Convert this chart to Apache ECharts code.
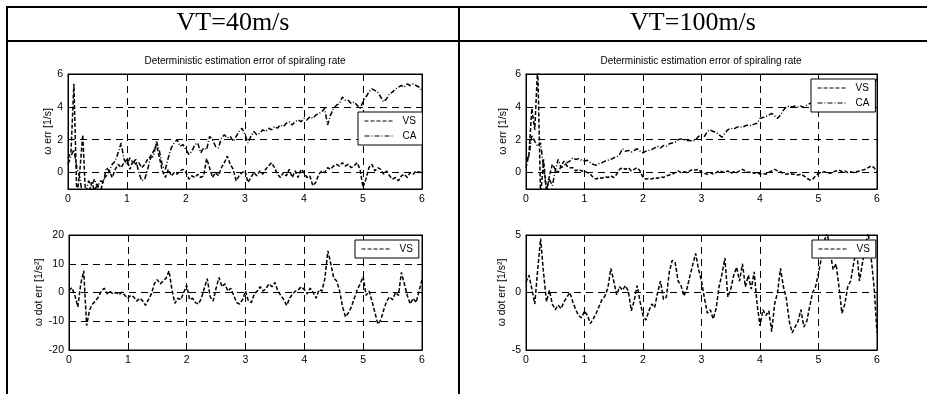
<!DOCTYPE html>
<html>
<head>
<meta charset="utf-8">
<script src="https://cdn.jsdelivr.net/npm/echarts@6/dist/echarts.min.js"></script>
<style>
  html, body { margin: 0; padding: 0; background: #fff; }
  #main { width: 927px; height: 394px; }
</style>
</head>
<body>
<div id="main"></div>
<script>
// sample step of all the curves (s)
var dt = 0.05;

// VT=40m/s
var vs40 = [
  0.9, 1.2, 5.4, -1.5, 0.1, 2.3, -1.6, -1.3, -0.6, -1.1,
  -0.7, -1.2, -0.4, -0.2, 0.1, -0.3, 0.2, 0.5, 0.3, 0.6,
  0.8, 0.2, 0.7, 0.5, 0.6, 0.3, 0.5, 0.8, 1.0, 1.3,
  1.7, 0.9, 0.1, -0.3, 0.2, -0.2, 0.0, -0.1, 0.1, 0.2,
  0.0, -0.4, -0.2, -0.3, -0.1, -0.3, -0.2, 0.85, 0.3, -0.3,
  0.0, -0.2, 0.3, 0.6, 1.0, 0.5, 0.2, -0.5, -0.2, 0.0,
  0.1, -0.6, -0.3, 0.0, -0.2, 0.1, -0.1, 0.2, 0.4, 0.6,
  0.3, -0.1, -0.3, 0.0, -0.2, 0.2, -0.3, 0.1, -0.3, 0.2,
  0.0, -0.3, -0.2, -0.8, -0.6, -0.1, 0.1, 0.0, 0.3, 0.2,
  0.4, 0.5, 0.4, 0.6, 0.4, 0.5, 0.3, 0.4, 0.6, 0.2,
  -0.9, -0.4, 0.3, 0.5, 0.1, 0.3, 0.2, -0.1, 0.1, -0.2,
  -0.4, -0.3, -0.5, -0.2, -0.1, -0.3, 0.0, -0.1, 0.1, 0.0,
  0.1
];
var ca40 = [
  0.5, 1.0, 1.4, 0.3, -0.3, -1.5, -1.2, -0.5, -0.8, -0.4,
  -0.9, -0.5, -0.6, 0.3, 0.1, 0.5, 0.7, 1.2, 1.8, 0.8,
  0.5, 0.9, 0.6, 0.8, 0.0, -0.5, -0.4, 0.2, 0.9, 1.0,
  1.9, 1.3, 0.4, 0.2, 0.9, 1.5, 1.8, 2.0, 1.6, 1.7,
  1.4, 1.1, 1.3, 1.7, 1.8, 1.2, 1.5, 1.4, 2.2, 2.0,
  1.6, 1.5, 2.1, 2.3, 2.1, 2.2, 1.9, 2.2, 2.5, 2.7,
  2.3, 1.8, 2.2, 2.5, 2.3, 2.4, 2.6, 2.5, 2.7, 2.6,
  2.8, 2.7, 2.9, 2.8, 3.0, 3.1, 2.9, 3.1, 3.2, 3.1,
  3.3, 3.2, 3.4, 3.3, 3.5, 3.6, 3.7, 3.9, 2.9, 3.5,
  3.9, 4.1, 4.2, 4.6, 4.4, 4.4, 4.2, 4.3, 4.1, 3.9,
  4.3, 4.6, 4.9, 5.1, 5.0, 4.9, 4.6, 4.3, 4.5, 4.8,
  4.9, 5.1, 5.2, 5.3, 5.2, 5.4, 5.3, 5.4, 5.3, 5.2,
  5.0
];
var vsDot40 = [
  0.7, 1.7, -1.0, -5.0, 3.0, 7.6, -11.5, -6.0, -4.0, -3.0,
  -1.5, 0.5, 1.5, -0.5, 0.3, -0.5, 0.0, -0.8, 0.2, -1.0,
  -2.0, -1.0, -1.5, -3.0, -2.0, -2.8, -4.5, -2.5, -0.5, 3.0,
  4.5, 3.0, 4.0, 5.0, 7.5, 1.0, -3.8, -2.0, -2.5, 0.0,
  2.5, -2.5, -2.0, -3.5, -4.0, -2.0, 1.5, 4.8, -1.5, -3.0,
  1.5, 5.2, 2.0, 3.0, 0.5, 1.5, -1.0, -3.5, -4.0, -2.5,
  0.5, -3.0, -3.5, -0.5, 0.5, 2.0, 0.5, 1.5, 3.0, 2.0,
  3.5, 0.5, -1.0, -2.5, -4.5, -2.0, -0.5, 0.5, 1.0, 2.0,
  1.0, -0.5, 1.5, 0.0, -2.0, 1.0, 0.5, 5.0, 14.5, 10.0,
  5.0, 4.0, 0.5, -5.0, -8.5, -7.0, -5.0, -2.0, 1.0, 3.0,
  5.5, -1.0, 0.5, -3.0, -7.0, -11.0, -9.5, -6.0, -3.0, -1.5,
  -2.5, 0.0, -1.0, 7.0, 3.0, -1.0, -4.0, -2.0, -3.5, 0.5,
  4.5
];

// VT=100m/s
var vs100 = [
  0.3, 1.1, 3.9, 2.6, 6.5, -1.5, 0.8, -1.2, -0.2, 0.5,
  0.2, 0.0, 0.4, 0.7, 0.4, 0.3, 0.3, 0.1, 0.2, 0.1,
  0.1, 0.0, -0.1, -0.3, -0.4, -0.3, -0.35, -0.25, -0.3, -0.2,
  -0.3, -0.1, 0.2, 0.3, 0.2, 0.3, 0.1, 0.2, 0.3, 0.1,
  -0.3, -0.4, -0.35, -0.4, -0.3, -0.35, -0.25, -0.3, -0.2, -0.15,
  -0.1, 0.0, 0.1, 0.0, 0.05, 0.0, 0.1, 0.2, 0.15, 0.2,
  0.0, -0.05, -0.1, 0.0, -0.1, 0.0, 0.1, 0.05, 0.0, 0.1,
  -0.05, 0.05, 0.0, 0.1, 0.2, 0.1, 0.0, 0.05, -0.05, 0.0,
  -0.1, -0.05, -0.1, 0.0, 0.1, 0.2, 0.1, 0.05, -0.05, -0.1,
  -0.05, -0.1, -0.1, -0.15, -0.1, -0.2, -0.35, -0.45, -0.4, -0.2,
  -0.05, 0.0, 0.05, 0.0, -0.05, 0.05, 0.1, 0.15, 0.05, 0.1,
  0.0, 0.05, 0.0, 0.05, 0.1, 0.15, 0.2, 0.3, 0.4, 0.3,
  0.05
];
var ca100 = [
  0.8, 1.0, 2.3, 1.9, 1.6, 1.8, 0.3, -1.0, -0.4, -0.8,
  0.1, 0.8, 0.3, 0.4, 0.6, 0.7, 0.9, 0.8, 0.85, 0.75,
  0.7, 0.75, 0.6, 0.5, 0.45, 0.55, 0.6, 0.7, 0.75, 0.8,
  0.9, 0.95, 1.1, 1.45, 1.3, 1.35, 1.25, 1.35, 1.45, 1.3,
  1.2, 1.3, 1.35, 1.4, 1.5, 1.6, 1.5, 1.65, 1.6, 1.75,
  1.8, 1.85, 2.0, 2.05, 2.0, 1.95, 1.95, 1.9, 2.0, 2.2,
  2.3, 2.2, 2.5, 2.6, 2.5, 2.45, 2.3, 2.15, 2.4, 2.6,
  2.7, 2.65, 2.75, 2.8, 2.75, 2.85, 2.9, 2.85, 2.95, 3.0,
  3.3, 3.35, 3.4, 3.5, 3.6, 3.45, 3.3, 3.5, 3.8, 4.0,
  4.05, 4.0, 4.05, 4.0, 4.05, 3.95, 4.1, 4.2, 4.25, 4.3,
  4.35, 4.4, 4.5, 4.55, 4.6, 4.7, 4.75, 4.8, 4.85, 4.9,
  4.95, 5.0, 5.05, 5.1, 5.15, 5.2, 5.2, 5.25, 5.3, 5.45,
  5.7
];
var vsDot100 = [
  0.9, 1.5, 0.3, -1.0, 2.0, 4.7, 1.7, -0.8, 0.2, -1.0,
  -1.5, -1.1, -1.4, -0.8, -0.4, 0.0, -0.8, -1.5, -2.0, -2.2,
  -1.6, -2.0, -2.7, -2.3, -1.8, -1.2, -0.6, -0.3, 0.4, 2.1,
  1.0, -0.2, 0.5, 0.2, 0.6, 0.1, -1.6, -0.7, 0.6, -0.8,
  -2.0, -2.4, -1.6, -1.0, -1.3, 0.0, 1.0, -0.6, -0.4, 1.8,
  2.8, 2.6, 1.0, 0.6, -0.3, 0.3, 1.4, 2.4, 3.4, 2.0,
  1.0, -0.5, -1.8, -1.5, -2.3, -1.4, 0.5, 1.6, 3.0, -0.4,
  0.3, 1.5, 2.2, 1.0, 2.5, 0.5, 1.5, 0.3, 1.8, -1.0,
  -2.9, -1.5, -2.0, -1.6, -3.4, -1.0, 0.0, 2.1, 0.5, -0.5,
  -2.5, -3.5, -3.0, -2.5, -1.5, -3.0, -2.5, -1.2, 0.0, 0.5,
  1.7, 3.0, 4.5, 5.2, 3.5, 2.0, 2.5, 0.5, -1.8, -1.0,
  0.5, 1.0, 2.5, 3.8, 1.0, 2.5, 4.0, 5.2, 3.0, 0.5,
  -3.5
];

// tick labels
var timeTicks = [0, 1, 2, 3, 4, 5, 6];
var errTicks = [0, 2, 4, 6];
var dot40Ticks = [-20, -10, 0, 10, 20];
var dot100Ticks = [-5, 0, 5];

var headers = ['VT=40m/s', 'VT=100m/s'];
var plotTitle = 'Deterministic estimation error of spiraling rate';
var errName = 'ω err [1/s]';
var dotName = 'ω dot err [1/s²]';

var sans = 'Liberation Sans, Arial, sans-serif';
var serif = 'Liberation Serif, Times New Roman, serif';
var gridDash = [7, 5];
var vsDash = [4, 2];
var caDash = [5, 2, 1, 2];

function toPairs(values) {
  var out = [];
  for (var i = 0; i < values.length; i++) {
    out.push([+(i * dt).toFixed(2), values[i]]);
  }
  return out;
}

var grids = [
  {left: 68, top: 74, width: 354, height: 115},
  {left: 69, top: 235, width: 353, height: 115},
  {left: 526, top: 74, width: 351, height: 115},
  {left: 526, top: 235, width: 351, height: 115}
];
grids.forEach(function (g) {
  g.show = true;
  g.borderColor = '#000';
  g.borderWidth = 1;
  g.backgroundColor = '#fff';
});

var xAxes = [];
var yAxes = [];

///each grid gets a bottom/left axis with labels and a mirrored top/right one (ticks only)
function addAxes(gi, yMin, yMax, yTicks, yName, nameGap) {
  var black = {color: '#000', width: 1};
  xAxes.push({
    gridIndex: gi, type: 'value', min: 0, max: 6,
    axisLine: {show: true, onZero: false, lineStyle: black},
    axisTick: {inside: true, length: 3, lineStyle: black, customValues: timeTicks},
    axisLabel: {color: '#000', fontSize: 10.5, fontFamily: sans, margin: 5, customValues: timeTicks},
    splitLine: {show: true, lineStyle: {color: '#000', width: 1, type: gridDash}}
  });
  xAxes.push({
    gridIndex: gi, type: 'value', min: 0, max: 6, position: 'top',
    axisLine: {show: true, onZero: false, lineStyle: black},
    axisTick: {inside: true, length: 3, lineStyle: black, customValues: timeTicks},
    axisLabel: {show: false},
    splitLine: {show: false}
  });
  yAxes.push({
    gridIndex: gi, type: 'value', min: yMin, max: yMax,
    name: yName, nameLocation: 'middle', nameGap: nameGap, nameRotate: 90,
    nameTextStyle: {color: '#000', fontSize: 10.5, fontFamily: sans},
    axisLine: {show: true, onZero: false, lineStyle: black},
    axisTick: {inside: true, length: 3, lineStyle: black, customValues: yTicks},
    axisLabel: {color: '#000', fontSize: 10.5, fontFamily: sans, margin: 5, customValues: yTicks},
    splitLine: {show: true, lineStyle: {color: '#000', width: 1, type: gridDash}}
  });
  yAxes.push({
    gridIndex: gi, type: 'value', min: yMin, max: yMax, position: 'right',
    axisLine: {show: true, onZero: false, lineStyle: black},
    axisTick: {inside: true, length: 3, lineStyle: black, customValues: yTicks},
    axisLabel: {show: false},
    splitLine: {show: false}
  });
}

addAxes(0, -1, 6, errTicks, errName, 14);
addAxes(1, -20, 20, dot40Ticks, dotName, 22);
addAxes(2, -1, 6, errTicks, errName, 17);
addAxes(3, -5, 5, dot100Ticks, dotName, 17);

function lineSeries(name, gi, values, dash) {
  return {
    name: name, type: 'line',
    xAxisIndex: gi * 2, yAxisIndex: gi * 2,
    data: toPairs(values),
    symbol: 'none', showSymbol: false, clip: true,
    lineStyle: {color: '#000', width: 1.5, type: dash},
    itemStyle: {color: '#000'},
    animation: false
  };
}

var series = [
  lineSeries('VS', 0, vs40, vsDash),
  lineSeries('CA', 0, ca40, caDash),
  lineSeries('VS', 1, vsDot40, vsDash),
  lineSeries('VS', 2, vs100, vsDash),
  lineSeries('CA', 2, ca100, caDash),
  lineSeries('VS', 3, vsDot100, vsDash)
];

function legendBox(names, left, top) {
  return {
    data: names, orient: 'vertical', left: left, top: top,
    selectedMode: false,
    backgroundColor: '#fff', borderColor: '#000', borderWidth: 1,
    padding: [4, 6, 4, 6], itemGap: 5,
    itemWidth: 28, itemHeight: 10,
    itemStyle: {opacity: 0},
    lineStyle: {width: 1},
    textStyle: {color: '#000', fontSize: 10, fontFamily: sans, padding: [0, 0, 0, 5]}
  };
}

var titles = [
  {text: headers[0], left: 233, top: 10, textAlign: 'center', padding: 0,
   textStyle: {fontFamily: serif, fontSize: 26, fontWeight: 'normal', color: '#000'}},
  {text: headers[1], left: 693, top: 10, textAlign: 'center', padding: 0,
   textStyle: {fontFamily: serif, fontSize: 26, fontWeight: 'normal', color: '#000'}},
  {text: plotTitle, left: 245, top: 56, textAlign: 'center', padding: 0,
   textStyle: {fontFamily: sans, fontSize: 10, fontWeight: 'normal', color: '#000'}},
  {text: plotTitle, left: 701, top: 56, textAlign: 'center', padding: 0,
   textStyle: {fontFamily: sans, fontSize: 10, fontWeight: 'normal', color: '#000'}}
];

// table rules around the four plots
var rule = {stroke: '#000', lineWidth: 2};
var tableLines = [
  {type: 'line', shape: {x1: 6, y1: 7, x2: 927, y2: 7}, style: rule},
  {type: 'line', shape: {x1: 6, y1: 41, x2: 927, y2: 41}, style: rule},
  {type: 'line', shape: {x1: 7, y1: 6, x2: 7, y2: 394}, style: rule},
  {type: 'line', shape: {x1: 459, y1: 6, x2: 459, y2: 394}, style: rule}
];

var chart = echarts.init(document.getElementById('main'));
chart.setOption({
  animation: false,
  backgroundColor: '#fff',
  title: titles,
  grid: grids,
  xAxis: xAxes,
  yAxis: yAxes,
  legend: [
    legendBox(['VS', 'CA'], 358, 112),
    legendBox(['VS'], 355, 240),
    legendBox(['VS', 'CA'], 811, 79),
    legendBox(['VS'], 812, 240)
  ],
  graphic: tableLines,
  series: series
});
</script>
</body>
</html>
